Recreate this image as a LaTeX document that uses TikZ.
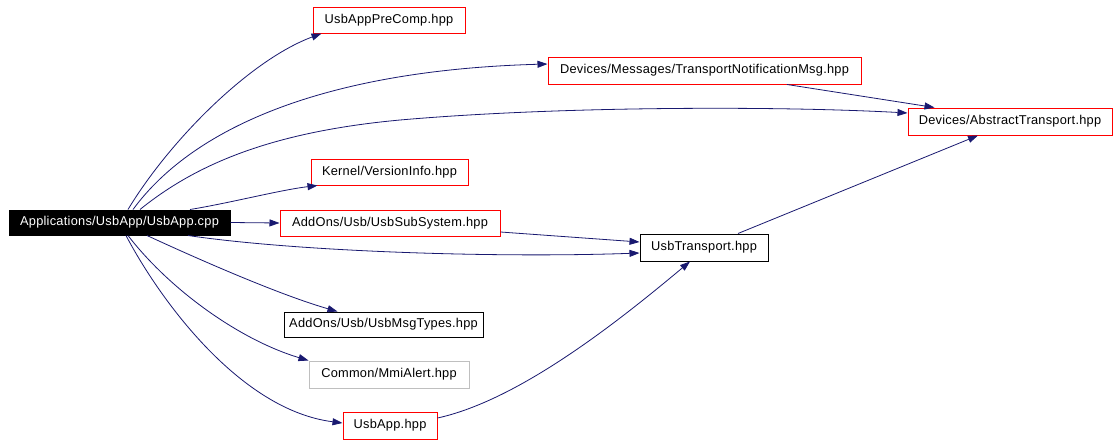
\documentclass[tikz,border=0pt]{standalone}
\usepackage{fontspec}
\setmainfont{Liberation Sans}[LetterSpace=2]
\usetikzlibrary{arrows.meta}
\definecolor{edgeblue}{RGB}{25,25,112}
\definecolor{nodered}{RGB}{255,0,0}
\definecolor{nodegray}{RGB}{191,191,191}
\tikzset{
  box/.style={draw, line width=1pt, inner sep=0pt, font=\fontsize{12.8}{15}\selectfont, fill=white},
  redbox/.style={box, draw=nodered},
  blackbox/.style={box, draw=black},
  graybox/.style={box, draw=nodegray},
  mainbox/.style={box, draw=black, fill=black, text=white},
  edge/.style={draw=edgeblue, line width=0.8pt, -{Triangle[length=10pt,width=7pt]}, fill=none}
}
\begin{document}
\begin{tikzpicture}[x=1pt,y=-1pt]
\useasboundingbox[fill=white] (0,0) rectangle (1120,445);

\node[mainbox, minimum width=221pt, minimum height=25pt] (main) at (119.5,222.5) {Applications/UsbApp/UsbApp.cpp};
\node[redbox, minimum width=152pt, minimum height=26pt] (precomp) at (389,20) {UsbAppPreComp.hpp};
\node[redbox, minimum width=313pt, minimum height=27pt] (tnmsg) at (704.5,70.5) {Devices/Messages/TransportNotificationMsg.hpp};
\node[redbox, minimum width=204pt, minimum height=27pt] (abstract) at (1010,121.5) {Devices/AbstractTransport.hpp};
\node[redbox, minimum width=157pt, minimum height=26pt] (version) at (389.5,172) {Kernel/VersionInfo.hpp};
\node[redbox, minimum width=220pt, minimum height=26pt] (subsys) at (390,223) {AddOns/Usb/UsbSubSystem.hpp};
\node[blackbox, minimum width=128pt, minimum height=27pt] (transport) at (704,247.5) {UsbTransport.hpp};
\node[blackbox, minimum width=199pt, minimum height=25pt] (msgtypes) at (383.5,324.5) {AddOns/Usb/UsbMsgTypes.hpp};
\node[graybox, minimum width=160pt, minimum height=27pt] (mmi) at (389,374.5) {Common/MmiAlert.hpp};
\node[redbox, minimum width=94pt, minimum height=27pt] (usbapp) at (390,425.5) {UsbApp.hpp};

% edges from main
\draw[edge] ([xshift=8.5pt]main.north) .. controls (170,140) and (250,60) .. ([xshift=9pt]precomp.south west);
\draw[edge] ([xshift=13.5pt]main.north) .. controls (195,125) and (330,70) .. ([yshift=6.5pt]tnmsg.west);
\draw[edge] ([xshift=20.5pt]main.north) .. controls (195,165) and (270,132) .. (400,120) .. controls (560,106) and (780,106) .. ([yshift=8.5pt]abstract.west);
\draw[edge] ([xshift=70.5pt]main.north) .. controls (230,203) and (280,190) .. ([xshift=7pt]version.south west);
\draw[edge] (main.east) -- (subsys.west);
\draw[edge] ([xshift=68.5pt]main.south) .. controls (300,252) and (500,258) .. ([yshift=-5.5pt]transport.west);
\draw[edge] ([xshift=27.5pt]main.south) .. controls (200,260) and (280,295) .. ([xshift=54pt]msgtypes.north west);
\draw[edge] ([xshift=8.5pt]main.south) .. controls (170,290) and (240,340) .. (mmi.north west);
\draw[edge] ([xshift=6.5pt]main.south) .. controls (160,300) and (240,410) .. ([yshift=2.5pt]usbapp.west);

% other edges
\draw[edge] ([xshift=82.5pt]tnmsg.south) -- ([xshift=27pt]abstract.north west);
\draw[edge] ([yshift=-9pt]subsys.east) -- ([yshift=5.5pt]transport.west);
\draw[edge] ([xshift=34pt]transport.north) -- ([xshift=-32pt]abstract.south);
\draw[edge] ([yshift=7.5pt]usbapp.east) .. controls (520,400) and (620,320) .. ([xshift=-14pt]transport.south);
\end{tikzpicture}
\end{document}
